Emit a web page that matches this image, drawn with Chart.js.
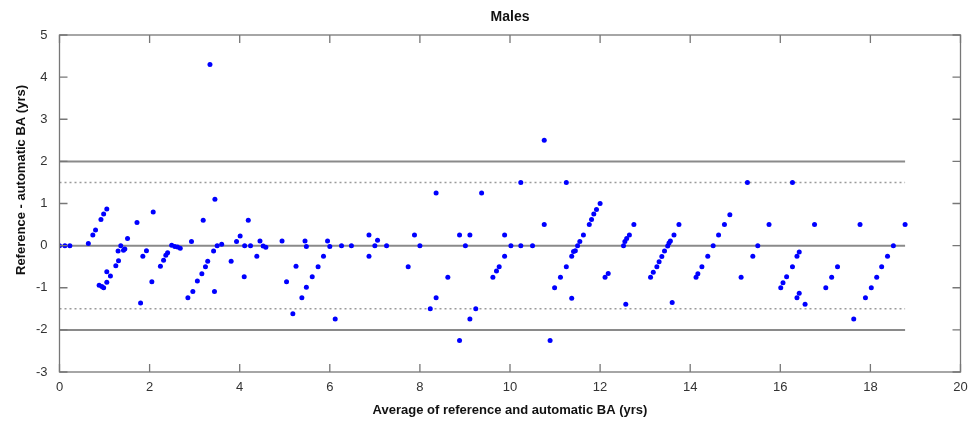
<!DOCTYPE html>
<html><head><meta charset="utf-8">
<script src="https://cdn.jsdelivr.net/npm/chart.js@4.4.1/dist/chart.umd.min.js"></script>
<style>html,body{margin:0;padding:0;background:#fff}#wrap{width:969px;height:425px}</style>
</head><body><div id="wrap"><canvas id="c" width="969" height="425"></canvas></div>
<script>
const chartTitle = 'Males';
const xAxisTitle = 'Average of reference and automatic BA (yrs)';
const yAxisTitle = 'Reference - automatic BA (yrs)';

const xValues = [
0.0,0.12,0.23,0.64,0.74,0.80,0.92,0.98,1.05,0.88,0.94,0.98,1.05,1.05,1.13,
1.25,1.31,1.30,1.36,1.42,1.45,1.51,1.72,1.80,1.85,1.93,2.05,2.08,
2.24,2.31,2.36,2.40,2.49,2.56,2.62,2.68,2.85,2.96,2.93,3.06,3.16,3.24,3.29,3.19,
3.42,3.44,3.45,3.50,3.60,3.81,3.93,4.01,4.10,4.11,3.34,
4.19,4.24,4.38,4.45,4.52,4.58,4.94,5.04,5.18,5.25,5.38,5.45,5.48,5.48,5.61,5.74,5.86,5.95,6.00,6.12,6.26,6.48,6.87,6.87,7.00,7.06,7.26,7.74,7.88,8.00,
8.23,8.36,8.36,8.62,8.88,8.88,9.01,9.11,9.11,9.24,9.37,9.62,9.70,9.76,9.88,9.88,10.02,10.24,10.24,10.50,10.76,10.76,10.89,10.99,11.12,11.25,11.25,11.37,11.37,11.41,11.45,11.50,11.55,11.63,11.76,11.81,11.86,11.92,12.00,
12.11,12.18,12.52,12.55,12.59,12.65,12.57,12.75,
13.12,13.18,13.26,13.31,13.37,13.43,13.50,13.53,13.56,13.64,13.60,13.75,
14.13,14.17,14.26,14.39,14.51,14.63,14.76,14.88,
15.13,15.27,15.39,15.50,15.75,16.01,16.06,
16.14,16.27,16.27,16.37,16.37,16.42,16.42,16.55,16.76,17.01,17.14,17.27,17.63,17.77,17.89,18.02,18.14,18.25,18.38,18.51,18.77
];
const yValues = [
0,0,0,0.05,0.25,0.37,0.62,0.75,0.87,-0.94,-0.97,-1.0,-0.87,-0.62,-0.72,
-0.48,-0.36,-0.13,0,-0.11,-0.08,0.17,0.55,-1.36,-0.25,-0.12,-0.86,0.80,
-0.49,-0.35,-0.23,-0.17,0.01,-0.02,-0.03,-0.06,-1.24,-1.09,0.10,-0.84,-0.67,-0.5,-0.37,0.60,
-0.13,-1.09,1.10,0,0.03,-0.37,0.10,0.23,-0.74,0,4.3,
0.60,0,-0.25,0.11,-0.01,-0.04,0.11,-0.86,-1.62,-0.49,-1.24,0.11,-0.02,-0.99,-0.74,-0.5,-0.25,0.11,-0.02,-1.74,0,0,0.25,-0.25,0,0.13,0,-0.5,0.25,0,
-1.5,1.25,-1.24,-0.75,0.25,-2.25,0,0.25,-1.74,-1.5,1.25,-0.75,-0.6,-0.5,0.25,-0.25,0,1.5,0,0,0.5,2.5,-2.25,-1.0,-0.75,1.5,-0.5,-0.25,-1.25,-0.14,-0.12,0,0.1,0.25,0.5,0.62,0.75,0.86,1.0,
-0.75,-0.66,0,0.1,0.17,0.25,-1.39,0.5,
-0.75,-0.63,-0.5,-0.38,-0.26,-0.13,-0.01,0.06,0.11,0.25,-1.35,0.5,
-0.75,-0.67,-0.5,-0.25,0,0.25,0.5,0.73,
-0.75,1.5,-0.25,0,0.5,-1.0,-0.88,
-0.74,-0.5,1.5,-1.24,-0.25,-0.15,-1.13,-1.39,0.5,-1.0,-0.75,-0.5,-1.74,0.5,-1.24,-1.0,-0.75,-0.5,-0.25,0,0.5
];

const solidLevels = [2, 0, -2];
const dottedLevels = [1.5, -1.5];
const lineXRange = [0, 18.77];
const xTickValues = [0,2,4,6,8,10,12,14,16,18,20];
const yTickValues = [-3,-2,-1,0,1,2,3,4,5];

const FONT = '"Liberation Sans", Arial, sans-serif';
const points = xValues.map((x, i) => ({x: x, y: yValues[i]}));

const datasets = [{
  type: 'scatter', label: 'Difference', data: points,
  backgroundColor: '#0000ff', borderColor: '#0000ff',
  pointRadius: 2.5, pointStyle: 'circle', borderWidth: 0, order: 0
}];
solidLevels.forEach(v => datasets.push({
  type: 'line', label: 'level ' + v,
  data: lineXRange.map(x => ({x: x, y: v})),
  borderColor: '#8a8a8a', borderWidth: 2, pointRadius: 0, fill: false, order: 2
}));
dottedLevels.forEach(v => datasets.push({
  type: 'line', label: 'level ' + v,
  data: lineXRange.map(x => ({x: x, y: v})),
  borderColor: '#9a9a9a', borderWidth: 1.5, borderDash: [2, 3], pointRadius: 0, fill: false, order: 1
}));

const framePlugin = {
  id: 'frame',
  afterDraw(chart) {
    const {ctx, chartArea: a, scales} = chart;
    ctx.save();
    ctx.strokeStyle = '#777777';
    ctx.lineWidth = 1.3;
    ctx.strokeRect(a.left, a.top, a.right - a.left, a.bottom - a.top);
    const L = 8;
    ctx.beginPath();
    xTickValues.forEach(v => {
      const px = scales.x.getPixelForValue(v);
      ctx.moveTo(px, a.bottom); ctx.lineTo(px, a.bottom - L);
      ctx.moveTo(px, a.top); ctx.lineTo(px, a.top + L);
    });
    yTickValues.forEach(v => {
      const py = scales.y.getPixelForValue(v);
      ctx.moveTo(a.left, py); ctx.lineTo(a.left + L, py);
      ctx.moveTo(a.right, py); ctx.lineTo(a.right - L, py);
    });
    ctx.stroke();
    ctx.fillStyle = '#111';
    ctx.textAlign = 'center'; ctx.textBaseline = 'middle';
    ctx.font = 'bold 14px ' + FONT;
    ctx.fillText(chartTitle, (a.left + a.right) / 2, 17);
    ctx.translate(21, 180);
    ctx.rotate(-Math.PI / 2);
    ctx.font = 'bold 13px ' + FONT;
    ctx.fillText(yAxisTitle, 0, 0);
    ctx.restore();
  }
};

new Chart(document.getElementById('c'), {
  data: { datasets },
  options: {
    responsive: false, animation: false, devicePixelRatio: 1,
    layout: { padding: { top: 35, right: 8.5, left: 0, bottom: 0 } },
    plugins: { legend: { display: false }, tooltip: { enabled: false }, title: { display: false } },
    scales: {
      x: {
        type: 'linear', min: 0, max: 20,
        afterFit(s) { s.height = 53; s.paddingRight = 0; s.paddingLeft = 0; },
        afterBuildTicks(s) { s.ticks = xTickValues.map(v => ({value: v})); },
        grid: { display: false, drawTicks: false, tickLength: 0 }, border: { display: false },
        ticks: { padding: 8, color: '#333', font: { family: FONT, size: 13 }, maxRotation: 0 },
        title: { display: true, text: xAxisTitle, color: '#111', font: { family: FONT, size: 13, weight: 'bold' }, padding: { top: 0, bottom: 7 } }
      },
      y: {
        type: 'linear', min: -3, max: 5,
        afterFit(s) { s.width = 59.5; s.paddingTop = 0; s.paddingBottom = 0; },
        afterBuildTicks(s) { s.ticks = yTickValues.map(v => ({value: v})); },
        grid: { display: false, drawTicks: false, tickLength: 0 }, border: { display: false },
        ticks: { padding: 12, color: '#333', font: { family: FONT, size: 13 } },
        title: { display: false }
      }
    }
  },
  plugins: [framePlugin]
});
</script></body></html>
